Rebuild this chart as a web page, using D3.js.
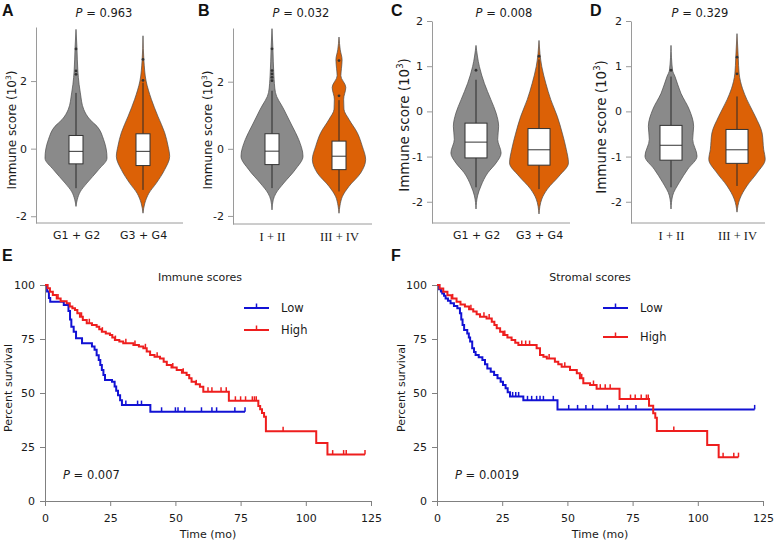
<!DOCTYPE html>
<html><head><meta charset="utf-8">
<script src="https://cdn.jsdelivr.net/npm/d3@7"></script>
<style>body{margin:0;background:#fff} svg{display:block;font-family:"DejaVu Sans",Verdana,sans-serif}</style>
</head><body><svg id="c" width="780" height="545"></svg>
<script>
// ---------------- DATA ----------------
const catsGrade = ["G1 + G2", "G3 + G4"];
const catsStage = ["I + II", "III + IV"];
const violinP = ["0.963", "0.032", "0.008", "0.329"];
const yTicksAB = [-2, 0, 2];
const yTicksCD = [-2, -1, 0, 1, 2];

// violin density profiles: [immune score (10^3), relative density]
const densA1 = [[3.53,0],[3.0,0.03],[2.3,0.06],[1.9,0.1],[1.65,0.14],[1.16,0.25],[0.86,0.45],[0.66,0.68],[0.27,0.89],[-0.28,1],[-0.62,0.73],[-1.02,0.35],[-1.27,0.14],[-1.51,0.04],[-1.71,0]];
const densA2 = [[3.34,0],[2.6,0.03],[2.0,0.1],[1.46,0.27],[0.96,0.48],[0.47,0.7],[0.07,0.81],[-0.23,0.86],[-0.62,0.7],[-1.02,0.43],[-1.32,0.19],[-1.61,0.06],[-1.91,0]];
const densB1 = [[3.58,0],[2.98,0.03],[2.2,0.06],[1.68,0.11],[1.18,0.38],[0.68,0.65],[0.28,0.86],[-0.22,1.0],[-0.62,0.75],[-1.02,0.38],[-1.32,0.13],[-1.52,0.04],[-1.82,0]];
const densB2 = [[3.33,0],[2.95,0.04],[2.65,0.1],[2.4,0.08],[2.18,0.06],[1.83,0.22],[1.48,0.15],[1.18,0.16],[0.88,0.32],[0.48,0.59],[0.08,0.75],[-0.32,0.86],[-0.72,0.7],[-1.12,0.32],[-1.42,0.11],[-1.7,0.03],[-1.92,0]];
const densC1 = [[1.46,0],[0.99,0.11],[0.62,0.27],[0.26,0.48],[-0.04,0.65],[-0.33,0.73],[-0.62,0.7],[-0.92,0.81],[-1.14,0.65],[-1.36,0.38],[-1.65,0.16],[-1.87,0.05],[-2.16,0]];
const densC2 = [[1.57,0],[0.99,0.09],[0.62,0.22],[0.26,0.38],[-0.11,0.59],[-0.48,0.75],[-0.84,0.88],[-1.14,0.95],[-1.43,0.65],[-1.72,0.27],[-1.94,0.09],[-2.27,0]];
const densD1 = [[1.46,0],[0.91,0.05],[0.77,0.13],[0.4,0.32],[0.04,0.59],[-0.33,0.73],[-0.62,0.7],[-0.99,0.84],[-1.28,0.54],[-1.57,0.27],[-1.87,0.05],[-2.16,0]];
const densD2 = [[1.72,0],[1.2,0.04],[0.83,0.07],[0.5,0.18],[0.26,0.32],[-0.11,0.59],[-0.48,0.81],[-0.84,0.86],[-1.06,0.91],[-1.36,0.65],[-1.65,0.32],[-1.94,0.09],[-2.23,0]];

// box stats: [whisker low, q1, median, q3, whisker high]
const boxA1 = [-1.17,-0.45,-0.08,0.39,1.65], outA1 = [2.2,2.3,2.95];
const boxA2 = [-1.22,-0.50,-0.08,0.44,1.95], outA2 = [2.02,2.64];
const boxB1 = [-1.17,-0.47,-0.07,0.45,1.73], outB1 = [2.03,2.13,2.23,2.33,2.98];
const boxB2 = [-1.27,-0.62,-0.22,0.23,1.45], outB2 = [1.58,2.63];
const boxC1 = [-1.68,-1.03,-0.68,-0.26,0.7], outC1 = [0.91];
const boxC2 = [-1.72,-1.19,-0.85,-0.38,1.15], outC2 = [1.22];
const boxD1 = [-1.68,-1.08,-0.75,-0.31,0.77], outD1 = [0.91];
const boxD2 = [-1.65,-1.15,-0.85,-0.40,0.33], outD2 = [0.83,1.2];

// Kaplan-Meier: [time (mo), percent survival]
const timeTicks = [0,25,50,75,100,125];
const survTicks = [0,25,50,75,100];
const groups = ["Low","High"];
const kmPValues = ["0.007","0.0019"];
const kmTitles = ["Immune scores","Stromal scores"];

const kmELow = [[0,100],[0.8,97],[1.5,94],[2,92.3],[7.2,90.7],[9,88],[9.6,84],[10.1,80.7],[11,78.4],[11.9,75.3],[14.2,73],[18,71.5],[19,70],[19.8,67.5],[20.6,65.3],[21.2,63],[21.8,60.6],[22.4,58.3],[23,56],[25.7,55.2],[26.7,53],[27.3,51],[28,49],[28.8,46.7],[29.5,44.4],[40.4,41.3]];
const kmELowEnd = 76.7;
const cenELow = [31,35.5,37,44.7,50,51,53.6,60,64,65.8,72.8,76.7];

const kmEHigh = [[0,100],[1,98.5],[1.9,96.9],[3,95.4],[4.5,93.8],[6,92.5],[8.3,91.5],[9.5,90],[10.5,89.2],[11.5,88.4],[12.4,86.9],[13.4,85.3],[14.5,83.8],[16,82.3],[18,81.5],[19.8,80.7],[20.8,79.5],[21.8,78.4],[23.3,77.6],[24.9,76.9],[25.8,75.7],[26.8,74.5],[28.5,73.8],[30,73],[33.9,72.2],[36,71.5],[37.7,70.7],[39,69.2],[40.3,67.6],[42,66.8],[44.1,66],[45.5,64.5],[46.7,63],[48.5,61.8],[50.5,60.6],[52.5,59.4],[54.3,58.3],[55.3,56.8],[56.2,55.2],[57.8,54],[59.4,52.9],[60.7,50.6],[70.5,46.4],[81.8,44],[82.5,42.5],[83.2,40.7],[84,39],[84.7,32.3],[104,26.8],[108.3,21.5]];
const kmEHighEnd = 122.7;
const cenEHigh = [5,14,17,22,27,31,34.5,38.5,43,49,53,58,62.5,64,67.5,69.5,73,75,76.9,79.5,80.3,81,91.3,110.3,114.5,115.5,122.7];

const kmFLow = [[0,100],[0.8,98],[1.5,97],[2,96.1],[2.7,95],[3.3,93.8],[4.2,92.7],[5.2,91.5],[6.5,90.3],[7.8,89.2],[8.8,86.9],[9.3,84],[9.8,81.5],[10.4,79.2],[11.6,77.6],[12.2,75.7],[12.7,73.8],[13.5,70.7],[14.2,69],[14.8,67.6],[16,66.5],[17.4,65.3],[18.4,63.3],[19.3,61.4],[20.6,59.8],[21.9,58.3],[23.2,56.8],[24.4,55.2],[25.3,53.7],[26.3,52.2],[27.1,50.4],[28,48.4],[33.1,46.6],[46.2,42.4]];
const kmFLowEnd = 121.8;
const cenFLow = [29,30.2,31.3,34.7,36.3,38.2,39.5,40.8,44.6,50.5,53.9,57.1,59.7,65.3,69.8,73,76.3,121.8];

const kmFHigh = [[0,100],[1,98.4],[2.4,96.9],[4,95.3],[5.6,93.8],[7.5,92.3],[9,91],[10.7,90],[12.3,88.8],[13.9,87.7],[15.2,86.5],[16.5,85.3],[19,84.5],[21,83],[22,81.5],[22.9,80],[24.2,78.4],[25.4,76.9],[27,75.7],[28.6,74.5],[30,73.3],[31.2,72.2],[38.2,70.7],[39.5,67.6],[40.8,66.8],[42.1,66],[45.2,64.5],[46.5,63.3],[47.8,62.2],[51,60.6],[53.6,59.1],[54.8,56.8],[56.1,54.5],[58.7,53.7],[61.2,52],[70,47.2],[81.3,44.1],[82.9,40.6],[83.7,38.5],[84.3,32.4],[103.6,25.9],[108,20.3]];
const kmFHighEnd = 115.6;
const cenFHigh = [6,13,18,20,26,32.5,34,35.5,43,49,55.5,60,62.6,64.5,66.4,74.2,76,78.3,80.3,81,90.8,109.7,113.8,115.6];

// ---------------- DRAWING ----------------
const svg = d3.select("#c");
const GRAY = "#8a8a8a", ORANGE = "#dc6106", BLUE = "#1212d4", RED = "#ee1e1e";
const TXT = "#1a1a1a";

const violinPanels = [
  {id:"A", ax:36, axEnd:183, c:[76,143], yr:[223,27], dom:[-2.2,3.6], ticks:yTicksAB, bw:7, cats:catsGrade, serif:false, labX:16, labFs:12, labY:130, letterX:2, pX:104, p:violinP[0], d:[densA1,densA2], b:[boxA1,boxA2], o:[outA1,outA2]},
  {id:"B", ax:233, axEnd:372, c:[272,339], yr:[224,28], dom:[-2.24,3.6], ticks:yTicksAB, bw:7, cats:catsStage, serif:true, labX:212, labFs:12, labY:130, letterX:198, pX:301, p:violinP[1], d:[densB1,densB2], b:[boxB1,boxB2], o:[outB1,outB2]},
  {id:"C", ax:432, axEnd:570, c:[476,539], yr:[223,21], dom:[-2.47,2], ticks:yTicksCD, bw:11, cats:catsGrade, serif:false, labX:409, labFs:13.5, labY:125, letterX:391, pX:504, p:violinP[2], d:[densC1,densC2], b:[boxC1,boxC2], o:[outC1,outC2]},
  {id:"D", ax:631, axEnd:765, c:[671,737], yr:[223,21], dom:[-2.47,2], ticks:yTicksCD, bw:11, cats:catsStage, serif:true, labX:606, labFs:13.5, labY:127, letterX:590, pX:700, p:violinP[3], d:[densD1,densD2], b:[boxD1,boxD2], o:[outD1,outD2]}
];
const wScale = d3.scaleLinear().domain([0,1]).range([0,31]);
const fills = [GRAY, ORANGE];

function letter(t, x, y){
  svg.append("text").attr("x",x).attr("y",y).attr("font-family","Liberation Sans, Arial, sans-serif")
    .attr("font-weight","bold").attr("font-size",16).attr("fill","#111").text(t);
}
function pText(g, x, y, val, anchor){
  const t = g.append("text").attr("x",x).attr("y",y).attr("font-size",11.5).attr("fill",TXT).attr("text-anchor",anchor||"middle");
  t.append("tspan").attr("font-style","italic").text("P");
  t.append("tspan").text(" = " + val);
}

violinPanels.forEach(P => {
  const g = svg.append("g");
  const y = d3.scaleLinear().domain(P.dom).range(P.yr);
  const x = d3.scalePoint().domain(P.cats).range(P.c);
  // axes
  const ya = g.append("g").attr("transform",`translate(${P.ax},0)`)
    .call(d3.axisLeft(y).tickValues(P.ticks).tickSize(5).tickSizeOuter(0).tickPadding(4).tickFormat(d => String(d)));
  ya.selectAll("path,line").attr("stroke","#9a9a9a");
  ya.selectAll("text").attr("font-size",11).attr("fill",TXT).attr("font-family","DejaVu Sans, Verdana, sans-serif");
  g.append("line").attr("x1",P.ax).attr("x2",P.axEnd).attr("y1",P.yr[0]).attr("y2",P.yr[0]).attr("stroke","#9a9a9a");
  const xa = g.append("g").attr("transform",`translate(0,${P.yr[0]})`)
    .call(d3.axisBottom(x).tickSize(0).tickPadding(8));
  xa.select(".domain").remove();
  xa.selectAll("text").attr("font-size", P.serif?12.5:11).attr("fill",TXT)
    .attr("font-family", P.serif ? "Liberation Serif, Times New Roman, serif" : "DejaVu Sans, Verdana, sans-serif");
  // y label
  const lab = g.append("text").attr("transform",`translate(${P.labX},${P.labY}) rotate(-90)`)
    .attr("text-anchor","middle").attr("font-size",P.labFs).attr("fill",TXT);
  lab.append("tspan").text("Immune score (10");
  lab.append("tspan").attr("font-size",P.labFs*0.62).attr("dy",-P.labFs*0.42).text("3");
  lab.append("tspan").attr("dy",P.labFs*0.42).text(")");
  // violins
  P.cats.forEach((cat, i) => {
    const cx = x(cat);
    const area = d3.area().y(d => y(d[0])).x0(d => cx - wScale(d[1])).x1(d => cx + wScale(d[1])).curve(d3.curveMonotoneY);
    g.append("path").datum(P.d[i]).attr("d", area).attr("fill", fills[i]).attr("stroke","#4a4a4a").attr("stroke-width",0.7);
    const b = P.b[i];
    g.append("line").attr("x1",cx).attr("x2",cx).attr("y1",y(b[0])).attr("y2",y(b[4])).attr("stroke","#2a2a2a").attr("stroke-width",1);
    g.append("rect").attr("x",cx-P.bw).attr("width",2*P.bw).attr("y",y(b[3])).attr("height",y(b[1])-y(b[3]))
      .attr("fill","#fff").attr("stroke","#333").attr("stroke-width",1);
    g.append("line").attr("x1",cx-P.bw).attr("x2",cx+P.bw).attr("y1",y(b[2])).attr("y2",y(b[2])).attr("stroke","#333").attr("stroke-width",1);
    g.selectAll(null).data(P.o[i]).enter().append("circle").attr("cx",cx).attr("cy",d=>y(d)).attr("r",1.4).attr("fill","#333");
  });
  pText(g, P.pX, 17, P.p);
  letter(P.id, P.letterX, 16);
});

// KM panels
const kmPanels = [
  {id:"E", x0:45, x1:371, letterX:2, labX:12, title:kmTitles[0], titleX:200, legX:244, legY:[308,330], pX:63, p:kmPValues[0],
   curves:[{pts:kmELow,end:kmELowEnd,cen:cenELow,col:BLUE},{pts:kmEHigh,end:kmEHighEnd,cen:cenEHigh,col:RED}]},
  {id:"F", x0:437, x1:763, letterX:391, labX:405, title:kmTitles[1], titleX:590, legX:603, legY:[308,337], pX:455, p:kmPValues[1],
   curves:[{pts:kmFLow,end:kmFLowEnd,cen:cenFLow,col:BLUE},{pts:kmFHigh,end:kmFHighEnd,cen:cenFHigh,col:RED}]}
];
kmPanels.forEach(P => {
  const g = svg.append("g");
  const x = d3.scaleLinear().domain([0,125]).range([P.x0, P.x1]);
  const y = d3.scaleLinear().domain([0,100]).range([501, 285]);
  const xa = g.append("g").attr("transform","translate(0,501)")
    .call(d3.axisBottom(x).tickValues(timeTicks).tickSize(5).tickSizeOuter(0).tickPadding(8));
  const ya = g.append("g").attr("transform",`translate(${P.x0},0)`)
    .call(d3.axisLeft(y).tickValues(survTicks).tickSize(5).tickSizeOuter(0).tickPadding(5));
  [xa,ya].forEach(a => {
    a.selectAll("path,line").attr("stroke","#808080");
    a.selectAll("text").attr("font-size",11).attr("fill",TXT).attr("font-family","DejaVu Sans, Verdana, sans-serif");
  });
  g.append("text").attr("x",(P.x0+P.x1)/2 + 0).attr("y",538).attr("text-anchor","middle").attr("font-size",11).attr("fill",TXT).text("Time (mo)");
  g.append("text").attr("transform",`translate(${P.labX},388) rotate(-90)`).attr("text-anchor","middle").attr("font-size",11).attr("fill",TXT).text("Percent survival");
  g.append("text").attr("x",P.titleX).attr("y",281).attr("text-anchor","middle").attr("font-size",11).attr("fill",TXT).text(P.title);
  pText(g, P.pX, 479, P.p, "start");
  letter(P.id, P.letterX, 261);

  const line = d3.line().x(d=>x(d[0])).y(d=>y(d[1])).curve(d3.curveStepAfter);
  const bis = d3.bisector(d=>d[0]).right;
  P.curves.forEach((c, i) => {
    const pts = c.pts.concat([[c.end, c.pts[c.pts.length-1][1]]]);
    g.append("path").datum(pts).attr("d", line).attr("fill","none").attr("stroke",c.col).attr("stroke-width",2);
    g.selectAll(null).data(c.cen).enter().append("line")
      .attr("x1",d=>x(d)).attr("x2",d=>x(d))
      .attr("y1",d=>y(c.pts[Math.max(0,bis(c.pts,d)-1)][1]))
      .attr("y2",d=>y(c.pts[Math.max(0,bis(c.pts,d)-1)][1]) - 4.5)
      .attr("stroke",c.col).attr("stroke-width",1.5);
    // legend
    const ly = P.legY[i];
    g.append("line").attr("x1",P.legX).attr("x2",P.legX+25).attr("y1",ly).attr("y2",ly).attr("stroke",c.col).attr("stroke-width",2);
    g.append("line").attr("x1",P.legX+12.5).attr("x2",P.legX+12.5).attr("y1",ly).attr("y2",ly-4.5).attr("stroke",c.col).attr("stroke-width",1.5);
    g.append("text").attr("x",P.legX+37).attr("y",ly+4).attr("font-size",11.5).attr("fill",TXT).text(groups[i]);
  });
});
</script></body></html>
